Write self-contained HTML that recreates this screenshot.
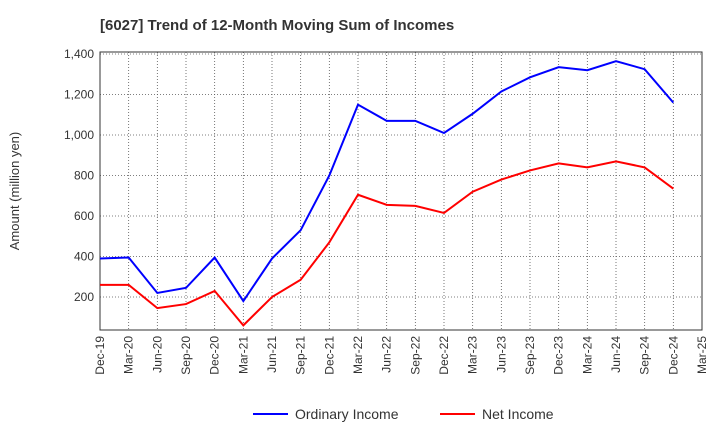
<!DOCTYPE html>
<html><head><meta charset="utf-8"><style>
body{margin:0;background:#fff;font-family:"Liberation Sans",sans-serif}
</style></head><body>
<svg id="c" width="720" height="440" xmlns="http://www.w3.org/2000/svg">
<text x="100" y="30" font-size="15" font-weight="bold" fill="#333">[6027]  Trend of 12-Month Moving Sum of Incomes</text>
<text transform="translate(19,191) rotate(-90)" text-anchor="middle" font-size="13" fill="#333">Amount (million yen)</text>
<g id="grid"></g><g id="axes"></g><g id="series"></g>
<g>
<line x1="253" y1="414" x2="288" y2="414" stroke="#0000ff" stroke-width="2"/>
<text x="295" y="419" font-size="14" fill="#333">Ordinary Income</text>
<line x1="440" y1="414" x2="475" y2="414" stroke="#ff0000" stroke-width="2"/>
<text x="482" y="419" font-size="14" fill="#333">Net Income</text>
</g>
</svg>
<script>
const xLabels=["Dec-19","Mar-20","Jun-20","Sep-20","Dec-20","Mar-21","Jun-21","Sep-21","Dec-21","Mar-22","Jun-22","Sep-22","Dec-22","Mar-23","Jun-23","Sep-23","Dec-23","Mar-24","Jun-24","Sep-24","Dec-24","Mar-25"];
const yTicks=[200,400,600,800,1000,1200,1400];
const yTickLabels=["200","400","600","800","1,000","1,200","1,400"];
const ordinary=[390,395,220,245,395,180,390,530,800,1150,1070,1070,1010,1105,1215,1285,1335,1320,1365,1325,1160];
const netIncome=[260,260,145,165,230,60,200,285,470,705,655,650,615,720,780,825,860,840,870,840,735];
const NS="http://www.w3.org/2000/svg";
const L=100,R=702,T=52,B=330,yMin=37,yMax=1410;
const xs=i=>L+i*(R-L)/(xLabels.length-1);
const ys=v=>B-(v-yMin)*(B-T)/(yMax-yMin);
function mk(tag,attrs,parent){const e=document.createElementNS(NS,tag);for(const k in attrs)e.setAttribute(k,attrs[k]);document.getElementById(parent).appendChild(e);return e;}
xLabels.forEach((lab,i)=>{
 const g=mk("line",{x1:xs(i),x2:xs(i),y1:T,y2:B,stroke:"#555","stroke-dasharray":"1,2","stroke-width":0.8},"grid");
 
 
 const t=mk("text",{transform:`translate(${xs(i)+4},${B+6}) rotate(-90)`,"text-anchor":"end","font-size":12,fill:"#333"},"axes");
 t.textContent=lab;
 
 
});
yTicks.forEach((v,i)=>{
 const g=mk("line",{x1:L,x2:R,y1:ys(v),y2:ys(v),stroke:"#555","stroke-dasharray":"1,2","stroke-width":0.8},"grid");
 
 
 const t=mk("text",{x:L-6,y:ys(v)+4,"text-anchor":"end","font-size":12,fill:"#333"},"axes");
 t.textContent=yTickLabels[i];
 
 
});
const fr=mk("rect",{x:L,y:T,width:R-L,height:B-T,fill:"none",stroke:"#333","stroke-width":1},"axes");


function line(data,color,name){
 const p=mk("polyline",{points:data.map((v,i)=>xs(i)+","+ys(v)).join(" "),fill:"none",stroke:color,"stroke-width":2},"series");
 
 
}
line(ordinary,"#0000ff","ordinary-income-line");
line(netIncome,"#ff0000","net-income-line");
</script>
</body></html>
